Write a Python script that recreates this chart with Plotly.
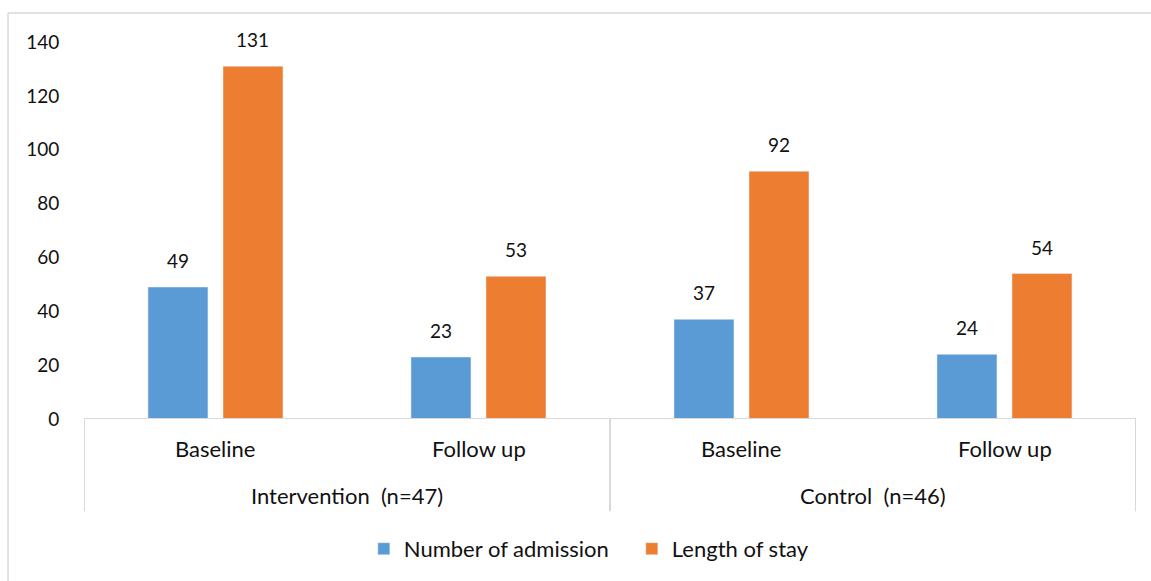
import plotly.graph_objects as go

# Chart data
groups = ["Intervention\u00a0\u00a0(n=47)", "Control\u00a0\u00a0(n=46)"]
phases = ["Baseline", "Follow up", "Baseline", "Follow up"]
admissions = [49, 23, 37, 24]
length_of_stay = [131, 53, 92, 54]
y_ticks = [0, 20, 40, 60, 80, 100, 120, 140]

BLUE = "#5B9BD5"
ORANGE = "#ED7D31"
GRID = "#D9D9D9"
FONT = "Lato"
TXT = "#111111"
NUM_SIZE = 19
TEXT_SIZE = 22

x_pos = list(range(len(phases)))
bar_w = 0.228
off_blue = -0.2567
off_orange = 0.0285

fig = go.Figure()
fig.add_trace(go.Bar(
    x=x_pos, y=admissions, name="Number of admission",
    marker=dict(color=BLUE), width=bar_w, offset=off_blue,
))
fig.add_trace(go.Bar(
    x=x_pos, y=length_of_stay, name="Length of stay",
    marker=dict(color=ORANGE), width=bar_w, offset=off_orange,
))

annotations = []
# value labels above each bar
for series, off in ((admissions, off_blue), (length_of_stay, off_orange)):
    for i, v in enumerate(series):
        annotations.append(dict(
            x=i + off + bar_w / 2, y=v, xref="x", yref="y",
            text=str(v), showarrow=False, yanchor="bottom", yshift=13,
            font=dict(family=FONT, size=NUM_SIZE, color=TXT),
        ))
# inner category labels
for i, p in enumerate(phases):
    annotations.append(dict(
        x=i, y=-0.0794, xref="x", yref="paper", text=p, showarrow=False,
        yanchor="middle", font=dict(family=FONT, size=TEXT_SIZE, color=TXT),
    ))
# outer group labels
for j, g in enumerate(groups):
    annotations.append(dict(
        x=2 * j + 0.5, y=-0.203, xref="x", yref="paper", text=g, showarrow=False,
        yanchor="middle", font=dict(family=FONT, size=TEXT_SIZE, color=TXT),
    ))

shapes = []
# category axis baseline
shapes.append(dict(type="line", xref="x", yref="y", x0=-0.5, x1=3.5, y0=0, y1=0,
                   line=dict(color=GRID, width=2)))
# group dividers below the axis
for xd in (-0.5, 1.5, 3.5):
    shapes.append(dict(type="line", xref="x", yref="paper", x0=xd, x1=xd,
                       y0=0, y1=-0.245, line=dict(color=GRID, width=2)))
# chart frame
shapes.append(dict(type="line", xref="paper", yref="paper", x0=-0.0722, x1=1.2,
                   y0=1.0767, y1=1.0767, line=dict(color=GRID, width=1.5)))
shapes.append(dict(type="line", xref="paper", yref="paper", x0=-0.0722, x1=-0.0722,
                   y0=1.0767, y1=-0.5, line=dict(color=GRID, width=1.5)))

fig.update_layout(
    width=1151, height=581,
    margin=dict(l=84, r=15, t=42, b=161),
    paper_bgcolor="white", plot_bgcolor="white",
    font=dict(family=FONT, size=NUM_SIZE, color=TXT),
    showlegend=True,
    legend=dict(orientation="h", x=0.266, xanchor="left", y=-0.341, yanchor="middle",
                font=dict(family=FONT, size=TEXT_SIZE, color=TXT), itemwidth=30,
                entrywidth=223, entrywidthmode="pixels",
                traceorder="normal"),
    xaxis=dict(range=[-0.5, 3.5], showticklabels=False, showgrid=False,
               zeroline=False, showline=False, ticks=""),
    yaxis=dict(range=[0, 140], tickvals=y_ticks, showgrid=False, zeroline=False,
               showline=False, ticks="outside", ticklen=20,
               tickcolor="rgba(0,0,0,0)",
               tickfont=dict(family=FONT, size=NUM_SIZE, color=TXT)),
    annotations=annotations,
    shapes=shapes,
)

fig.write_html("out.html")
